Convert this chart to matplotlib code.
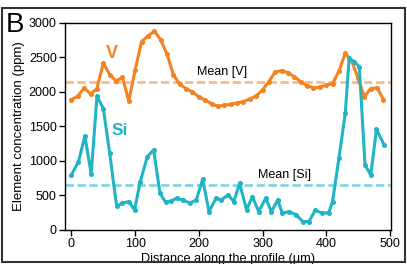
import matplotlib
matplotlib.use("Agg")
import matplotlib.pyplot as plt
from matplotlib.patches import Rectangle

plt.rcParams["font.family"] = ["Liberation Sans", "DejaVu Sans"]

# V profile, sampled every 10 um
v_dist = [0, 10, 20, 30, 40, 50, 60, 70, 80, 90, 100, 110, 120, 130, 140, 150,
          160, 170, 180, 190, 200, 210, 220, 230, 240, 250, 260, 270, 280, 290,
          300, 310, 320, 330, 340, 350, 360, 370, 380, 390, 400, 410, 420, 430,
          440, 450, 460, 470, 480, 490]
v_ppm = [1890, 1940, 2060, 1970, 2050, 2420, 2250, 2160, 2210, 1870, 2320, 2730,
         2810, 2880, 2760, 2550, 2250, 2110, 2050, 2000, 1930, 1880, 1830, 1790,
         1810, 1820, 1840, 1860, 1900, 1940, 2030, 2150, 2290, 2310, 2280, 2220,
         2150, 2090, 2060, 2070, 2100, 2120, 2300, 2560, 2450, 2200, 1930, 2050,
         2060, 1890]

# Si profile
si_dist = [0, 11, 21, 31, 40, 50, 60, 71, 80, 90, 99, 108, 119, 129, 139, 148,
           157, 165, 175, 186, 196, 206, 216, 227, 235, 246, 255, 264, 275, 284,
           294, 305, 314, 324, 331, 342, 353, 363, 373, 383, 393, 404, 410, 420,
           430, 436, 444, 452, 461, 470, 479, 491]
si_ppm = [800, 990, 1360, 810, 1940, 1760, 1110, 340, 390, 410, 290, 700, 1060,
          1160, 530, 400, 420, 460, 430, 390, 435, 735, 266, 459, 435, 507, 411,
          676, 290, 483, 266, 459, 266, 435, 242, 266, 217, 121, 121, 290, 242,
          251, 411, 1040, 1690, 2488, 2440, 2367, 942, 797, 1459, 1232]

mean_v = 2140
mean_si = 650

orange = "#F58220"
cyan = "#20B4C4"

fig = plt.figure(figsize=(4.07, 2.64), dpi=100)
ax = fig.add_axes([0.160, 0.129, 0.801, 0.784])

ax.axhline(mean_v, color=orange, alpha=0.55, lw=2, ls=(0, (3, 1.3)))
ax.axhline(mean_si, color=cyan, alpha=0.55, lw=2, ls=(0, (3, 1.3)))
ax.plot(v_dist, v_ppm, color=orange, lw=2.2, marker="o", ms=2.6)
ax.plot(si_dist, si_ppm, color=cyan, lw=2.2, marker="o", ms=2.6)

ax.text(63, 2560, "V", color=orange, fontsize=13, fontweight="bold", ha="center", va="center")
ax.text(76, 1435, "Si", color=cyan, fontsize=12.5, fontweight="bold", ha="center", va="center")
ax.text(236, 2285, "Mean [V]", fontsize=9, ha="center", va="center")
ax.text(334, 800, "Mean [Si]", fontsize=9, ha="center", va="center")

ax.set_xlim(-10, 502)
ax.set_ylim(0, 3000)
ax.set_xticks([0, 100, 200, 300, 400, 500])
ax.set_yticks([0, 500, 1000, 1500, 2000, 2500, 3000])
ax.tick_params(direction="out", length=4, width=1, labelsize=9, pad=2)
for s in ax.spines.values():
    s.set_linewidth(1)
ax.set_xlabel("Distance along the profile (\u03bcm)", fontsize=9.2, labelpad=2)
ax.set_ylabel("Element concentration (ppm)", fontsize=9.5, labelpad=3)

# panel letter and frame
fig.text(0.037, 0.877, "B", fontsize=20, ha="center", va="baseline")
fig.patches.append(Rectangle((0.004, 0.008), 0.99, 0.962, transform=fig.transFigure,
                             fill=False, edgecolor="#333333", lw=1.5))

fig.savefig("out.png", dpi=100)
